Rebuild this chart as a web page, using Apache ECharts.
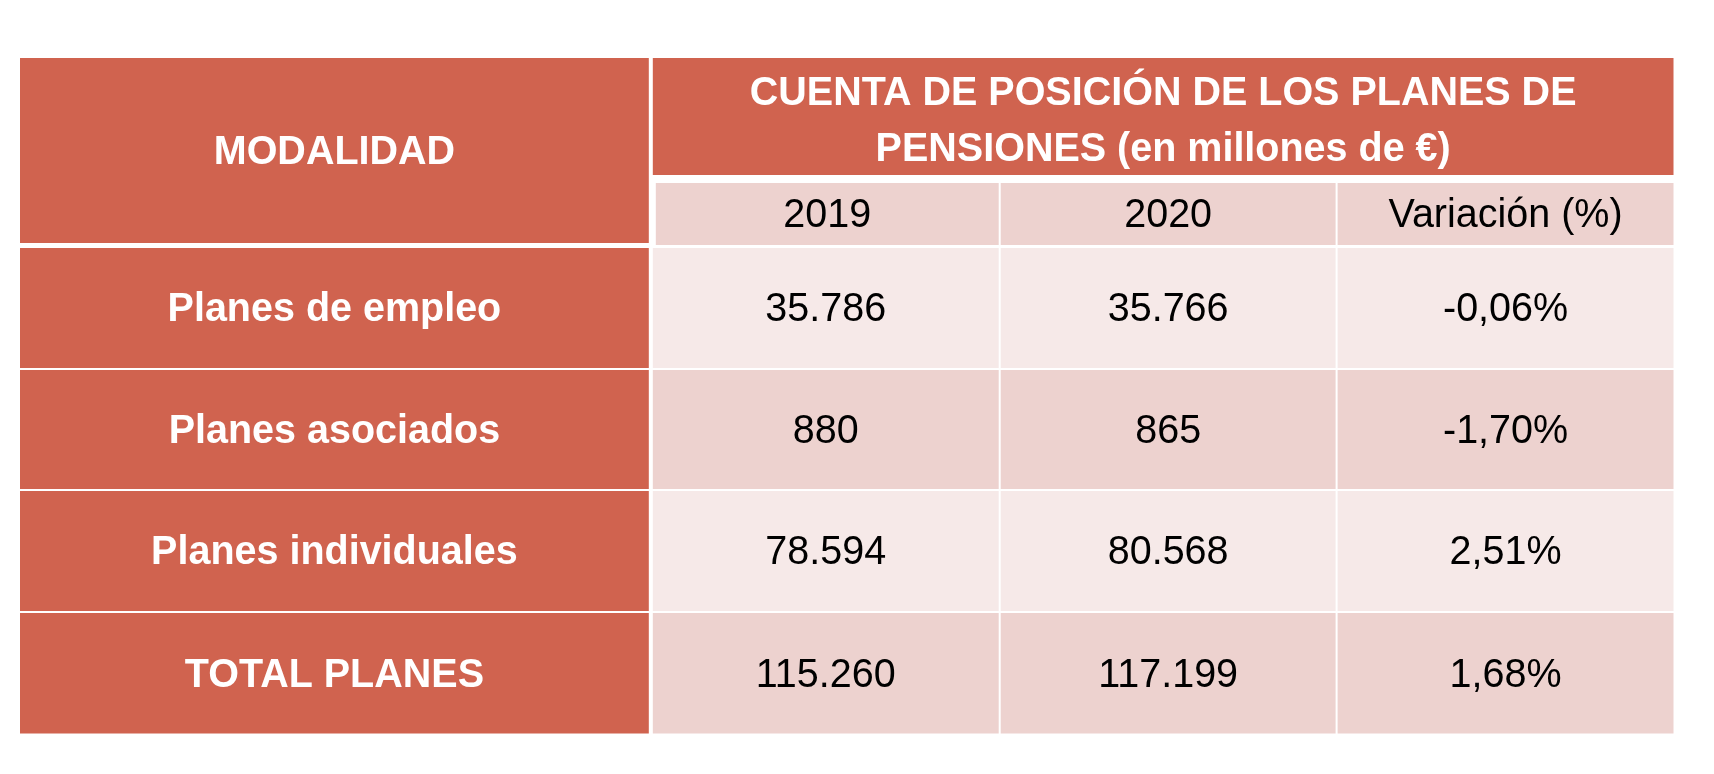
<!DOCTYPE html>
<html><head><meta charset="utf-8">
<script src="https://cdn.jsdelivr.net/npm/echarts@6/dist/echarts.min.js"></script>
<style>html,body{margin:0;padding:0;background:#fff}#c{width:1714px;height:774px}</style>
</head><body><div id="c"></div>
<script>
// ---- data ----
const headerTitle = 'CUENTA DE POSICIÓN DE LOS PLANES DE\nPENSIONES (en millones de €)';
const firstColumnTitle = 'MODALIDAD';
const columnLabels = ['2019', '2020', 'Variación (%)'];
const modalidades = ['Planes de empleo', 'Planes asociados', 'Planes individuales', 'TOTAL PLANES'];
const values2019 = [35786, 880, 78594, 115260];
const values2020 = [35766, 865, 80568, 117199];
const variation = [-0.06, -1.70, 2.51, 1.68];

// ---- layout (axis units) ----
const COL_MOD = [0, 629];
const COL_HEAD = [633, 1654];
const COL_DATA = [[633, 979], [981, 1316], [1318, 1654]];
const YEAR_X0 = 636;
const ROW_HEAD = [0, 117];
const ROW_YEAR = [125, 187];
const ROW_MOD_HEAD = [0, 185];
const ROW_BODY = [[190, 310], [312, 431], [433, 553], [555, 675.5]];

const RED = '#D0634F', PINK_DARK = '#EDD2CF', PINK_LIGHT = '#F6E9E8';
const FONT = 'Liberation Sans';
const FS = 39.5;

const fmtInt = n => String(n).replace(/\B(?=(\d{3})+(?!\d))/g, '.');
const fmtPct = v => v.toFixed(2).replace('.', ',') + '%';

const cells = [];
function addCell(xr, yr, text, fill, color, bold, lh) {
  cells.push({ value: [xr[0], xr[1], yr[0], yr[1]], text, fill, color, bold, lh: lh || 0 });
}
addCell(COL_MOD, ROW_MOD_HEAD, firstColumnTitle, RED, '#fff', true);
addCell(COL_HEAD, ROW_HEAD, headerTitle, RED, '#fff', true, 54);
columnLabels.forEach((lab, j) => {
  const xr = j === 0 ? [YEAR_X0, COL_DATA[0][1]] : COL_DATA[j];
  addCell(xr, ROW_YEAR, lab, PINK_DARK, '#000', false);
});
modalidades.forEach((m, i) => {
  const fill = i % 2 === 0 ? PINK_LIGHT : PINK_DARK;
  addCell(COL_MOD, ROW_BODY[i], m, RED, '#fff', true);
  addCell(COL_DATA[0], ROW_BODY[i], fmtInt(values2019[i]), fill, '#000', false);
  addCell(COL_DATA[1], ROW_BODY[i], fmtInt(values2020[i]), fill, '#000', false);
  addCell(COL_DATA[2], ROW_BODY[i], fmtPct(variation[i]), fill, '#000', false);
});

const chart = echarts.init(document.getElementById('c'), null, { renderer: 'canvas' });
chart.setOption({
  backgroundColor: '#ffffff',
  animation: false,
  textStyle: { fontFamily: FONT },
  grid: { left: 20, right: 40.5, top: 58, bottom: 40.5 },
  xAxis: { type: 'value', min: 0, max: 1654, show: false },
  yAxis: { type: 'value', min: 0, max: 675.5, inverse: true, show: false },
  series: [{
    type: 'custom',
    encode: { x: [0, 1], y: [2, 3] },
    data: cells.map(c => c.value),
    renderItem: function (params, api) {
      const c = cells[params.dataIndex];
      const p0 = api.coord([api.value(0), api.value(2)]);
      const p1 = api.coord([api.value(1), api.value(3)]);
      const cx = (p0[0] + p1[0]) / 2, cy = (p0[1] + p1[1]) / 2 + (c.lh ? 5.5 : 2);
      const style = {
        text: c.text, x: 0, y: 0, fill: c.color,
        fontFamily: FONT, fontSize: FS, fontWeight: c.bold ? 'bold' : 'normal',
        align: 'center', verticalAlign: 'middle'
      };
      if (c.lh) style.lineHeight = c.lh;
      return {
        type: 'group',
        children: [
          { type: 'rect', shape: { x: p0[0], y: p0[1], width: p1[0] - p0[0], height: p1[1] - p0[1] }, style: { fill: c.fill } },
          { type: 'text', x: cx, y: cy, scaleY: 1.04, style: style }
        ]
      };
    }
  }]
});
</script></body></html>
